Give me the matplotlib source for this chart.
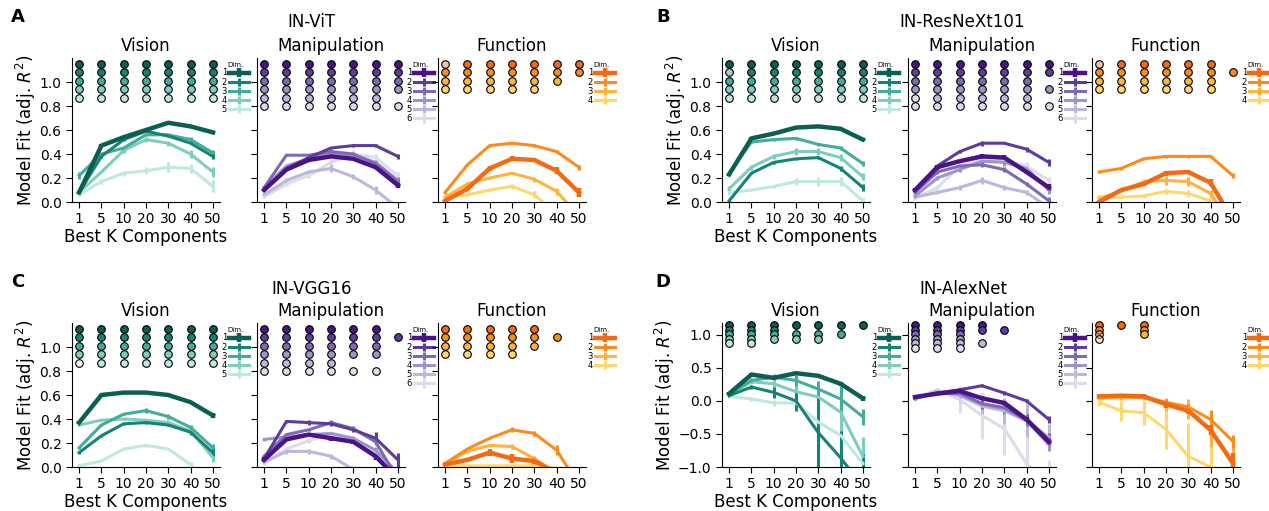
import matplotlib
matplotlib.use("Agg")
import matplotlib.pyplot as plt
from matplotlib.colors import to_rgba

K_LABELS = ["1", "5", "10", "20", "30", "40", "50"]
SUBTITLES = ["Vision", "Manipulation", "Function"]
MODELS = ["IN-ViT", "IN-ResNeXt101", "IN-VGG16", "IN-AlexNet"]
LETTERS = ["A", "B", "C", "D"]

VISION_COLORS = ["#0b5e52", "#178277", "#45ab9c", "#7fcdbf", "#bfe9df"]
MANIP_COLORS = ["#4a1486", "#5e3c99", "#7c6bb1", "#9e94c8", "#bcb8dc", "#dcdcee"]
FUNC_COLORS = ["#f26a12", "#fb8c1c", "#fdb33e", "#fed86e"]

ALL7 = [0, 1, 2, 3, 4, 5, 6]

# ---- A: IN-ViT ----
VIT_VIS = [
    [0.08, 0.47, 0.54, 0.60, 0.66, 0.63, 0.58],
    [0.08, 0.38, 0.52, 0.59, 0.55, 0.49, 0.38],
    [0.22, 0.40, 0.45, 0.56, 0.56, 0.52, 0.41],
    [0.08, 0.25, 0.43, 0.52, 0.49, 0.40, 0.25],
    [0.06, 0.17, 0.24, 0.26, 0.29, 0.28, 0.13],
]
VIT_VIS_ERR = [
    [0.01, 0.01, 0.01, 0.01, 0.01, 0.01, 0.01],
    [0.01, 0.01, 0.01, 0.01, 0.01, 0.01, 0.02],
    [0.03, 0.01, 0.01, 0.01, 0.01, 0.02, 0.02],
    [0.01, 0.01, 0.02, 0.02, 0.02, 0.03, 0.04],
    [0.01, 0.02, 0.02, 0.03, 0.04, 0.04, 0.05],
]
VIT_VIS_DOTS = [ALL7, ALL7, ALL7, ALL7, ALL7]
VIT_VIS_FAINT = []

VIT_MAN = [
    [0.10, 0.27, 0.35, 0.38, 0.36, 0.29, 0.14],
    [0.10, 0.28, 0.37, 0.45, 0.47, 0.47, 0.38],
    [0.12, 0.39, 0.39, 0.42, 0.40, 0.32, 0.17],
    [0.12, 0.30, 0.36, 0.41, 0.39, 0.33, 0.18],
    [0.06, 0.18, 0.25, 0.28, 0.21, 0.10, -0.05],
    [0.04, 0.15, 0.22, 0.33, 0.40, 0.37, 0.22],
]
VIT_MAN_ERR = [
    [0.01, 0.01, 0.01, 0.01, 0.01, 0.01, 0.02],
    [0.01, 0.01, 0.01, 0.01, 0.01, 0.01, 0.02],
    [0.01, 0.01, 0.01, 0.01, 0.02, 0.02, 0.03],
    [0.01, 0.01, 0.02, 0.02, 0.02, 0.02, 0.03],
    [0.01, 0.02, 0.02, 0.03, 0.02, 0.03, 0.04],
    [0.01, 0.02, 0.02, 0.03, 0.03, 0.03, 0.03],
]
VIT_MAN_DOTS = [ALL7, ALL7, ALL7, ALL7, [0, 1, 2, 3, 4, 5], ALL7]
VIT_MAN_FAINT = []

VIT_FUN = [
    [0.01, 0.11, 0.28, 0.36, 0.35, 0.26, 0.08],
    [0.08, 0.31, 0.47, 0.49, 0.47, 0.42, 0.29],
    [0.04, 0.15, 0.20, 0.24, 0.19, 0.09, -0.12],
    [0.04, 0.06, 0.10, 0.13, 0.06, -0.10, -0.30],
]
VIT_FUN_ERR = [
    [0.01, 0.02, 0.02, 0.02, 0.02, 0.03, 0.04],
    [0.01, 0.01, 0.01, 0.01, 0.01, 0.01, 0.02],
    [0.01, 0.02, 0.01, 0.01, 0.02, 0.03, 0.03],
    [0.01, 0.01, 0.01, 0.02, 0.03, 0.03, 0.03],
]
VIT_FUN_DOTS = [ALL7, ALL7, [0, 1, 2, 3, 4, 5], [0, 1, 2, 3, 4]]
VIT_FUN_FAINT = [(0, 0)]

# ---- B: IN-ResNeXt101 ----
RNX_VIS = [
    [0.23, 0.53, 0.57, 0.62, 0.63, 0.61, 0.52],
    [0.01, 0.24, 0.33, 0.36, 0.37, 0.28, 0.12],
    [0.24, 0.50, 0.52, 0.53, 0.48, 0.45, 0.32],
    [0.11, 0.29, 0.38, 0.42, 0.42, 0.37, 0.21],
    [0.08, 0.10, 0.13, 0.17, 0.17, 0.17, 0.01],
]
RNX_VIS_ERR = [
    [0.01, 0.01, 0.01, 0.01, 0.01, 0.01, 0.01],
    [0.01, 0.01, 0.01, 0.01, 0.01, 0.02, 0.03],
    [0.01, 0.01, 0.01, 0.01, 0.01, 0.02, 0.02],
    [0.02, 0.02, 0.02, 0.03, 0.03, 0.03, 0.03],
    [0.02, 0.01, 0.01, 0.03, 0.04, 0.04, 0.02],
]
RNX_VIS_DOTS = [ALL7, ALL7, ALL7, ALL7, ALL7]
RNX_VIS_FAINT = [(1, 0)]

RNX_MAN = [
    [0.10, 0.29, 0.34, 0.38, 0.37, 0.25, 0.12],
    [0.10, 0.30, 0.42, 0.49, 0.49, 0.44, 0.33],
    [0.08, 0.25, 0.30, 0.31, 0.27, 0.15, 0.01],
    [0.05, 0.20, 0.27, 0.34, 0.33, 0.28, 0.10],
    [0.04, 0.08, 0.12, 0.18, 0.12, 0.08, -0.05],
    [0.03, 0.12, 0.30, 0.35, 0.35, 0.30, 0.18],
]
RNX_MAN_ERR = [
    [0.02, 0.02, 0.01, 0.02, 0.02, 0.02, 0.03],
    [0.01, 0.01, 0.01, 0.02, 0.01, 0.02, 0.03],
    [0.01, 0.02, 0.02, 0.02, 0.02, 0.02, 0.03],
    [0.01, 0.02, 0.02, 0.02, 0.03, 0.03, 0.03],
    [0.01, 0.01, 0.02, 0.03, 0.02, 0.02, 0.03],
    [0.01, 0.02, 0.02, 0.02, 0.02, 0.03, 0.03],
]
RNX_MAN_DOTS = [ALL7, ALL7, [0, 1, 2, 3, 4, 5], ALL7, [0, 1, 2, 3, 4, 5], ALL7]
RNX_MAN_FAINT = [(4, 0)]

RNX_FUN = [
    [0.00, 0.10, 0.15, 0.24, 0.25, 0.16, -0.15],
    [0.25, 0.28, 0.36, 0.38, 0.38, 0.38, 0.22],
    [0.03, 0.09, 0.17, 0.18, 0.17, 0.07, -0.20],
    [0.04, 0.04, 0.05, 0.09, 0.07, 0.01, -0.30],
]
RNX_FUN_ERR = [
    [0.01, 0.01, 0.02, 0.02, 0.02, 0.03, 0.04],
    [0.01, 0.01, 0.01, 0.01, 0.01, 0.01, 0.02],
    [0.01, 0.01, 0.02, 0.04, 0.04, 0.03, 0.03],
    [0.02, 0.01, 0.02, 0.02, 0.03, 0.03, 0.03],
]
RNX_FUN_DOTS = [[0, 1, 2, 3, 4, 5], ALL7, [0, 1, 2, 3, 4, 5], [0, 1, 2, 3, 4, 5]]
RNX_FUN_FAINT = [(0, 0)]

# ---- C: IN-VGG16 ----
VGG_VIS = [
    [0.37, 0.60, 0.62, 0.62, 0.60, 0.54, 0.43],
    [0.12, 0.26, 0.36, 0.37, 0.35, 0.29, 0.12],
    [0.16, 0.35, 0.44, 0.47, 0.42, 0.33, 0.16],
    [0.35, 0.39, 0.40, 0.39, 0.37, 0.30, 0.08],
    [0.01, 0.05, 0.15, 0.18, 0.15, 0.02, -0.20],
]
VGG_VIS_ERR = [
    [0.01, 0.01, 0.01, 0.01, 0.01, 0.01, 0.02],
    [0.01, 0.01, 0.01, 0.01, 0.01, 0.02, 0.03],
    [0.01, 0.01, 0.01, 0.02, 0.02, 0.02, 0.03],
    [0.01, 0.01, 0.01, 0.01, 0.02, 0.02, 0.04],
    [0.01, 0.01, 0.01, 0.01, 0.01, 0.02, 0.03],
]
VGG_VIS_DOTS = [ALL7, ALL7, ALL7, ALL7, ALL7]
VGG_VIS_FAINT = [(4, 0)]

VGG_MAN = [
    [0.06, 0.23, 0.27, 0.24, 0.21, 0.09, -0.10],
    [0.07, 0.38, 0.37, 0.36, 0.31, 0.24, 0.06],
    [0.09, 0.27, 0.31, 0.37, 0.32, 0.21, -0.10],
    [0.23, 0.25, 0.27, 0.28, 0.24, 0.14, -0.05],
    [0.04, 0.13, 0.13, 0.09, -0.02, -0.20, -0.30],
    [0.03, 0.15, 0.22, 0.27, 0.23, 0.12, -0.05],
]
VGG_MAN_ERR = [
    [0.02, 0.01, 0.01, 0.02, 0.02, 0.03, 0.04],
    [0.01, 0.01, 0.02, 0.02, 0.02, 0.05, 0.06],
    [0.01, 0.01, 0.01, 0.02, 0.02, 0.03, 0.04],
    [0.01, 0.01, 0.01, 0.01, 0.02, 0.03, 0.04],
    [0.01, 0.02, 0.02, 0.02, 0.03, 0.03, 0.04],
    [0.01, 0.02, 0.02, 0.02, 0.02, 0.03, 0.04],
]
VGG_MAN_DOTS = [[0, 1, 2, 3, 4, 5], ALL7, [0, 1, 2, 3, 4, 5], [0, 1, 2, 3, 4, 5],
                [0, 1, 2, 3], [0, 1, 2, 3, 4, 5]]
VGG_MAN_FAINT = []

VGG_FUN = [
    [0.02, 0.06, 0.12, 0.07, 0.05, -0.05, -0.10],
    [0.03, 0.15, 0.24, 0.31, 0.28, 0.14, -0.15],
    [0.03, 0.13, 0.18, 0.17, 0.07, -0.05, -0.20],
    [0.01, 0.01, 0.01, 0.01, 0.01, -0.01, -0.10],
]
VGG_FUN_ERR = [
    [0.01, 0.01, 0.03, 0.04, 0.03, 0.03, 0.04],
    [0.01, 0.01, 0.01, 0.02, 0.02, 0.04, 0.04],
    [0.01, 0.01, 0.01, 0.02, 0.02, 0.03, 0.03],
    [0.01, 0.01, 0.01, 0.01, 0.01, 0.02, 0.02],
]
VGG_FUN_DOTS = [[0, 1, 2, 3, 4], [0, 1, 2, 3, 4, 5], [0, 1, 2, 3, 4], [0, 1, 2, 3]]
VGG_FUN_FAINT = []

# ---- D: IN-AlexNet ----
ALX_VIS = [
    [0.11, 0.40, 0.35, 0.42, 0.38, 0.26, 0.04],
    [0.08, 0.21, 0.13, 0.00, -0.48, -0.86, -1.30],
    [0.11, 0.31, 0.36, 0.31, 0.18, 0.03, -0.24],
    [0.09, 0.29, 0.26, 0.14, 0.06, -0.17, -0.84],
    [0.07, 0.03, -0.03, -0.03, -0.32, -0.52, -0.95],
]
ALX_VIS_ERR = [
    [0.02, 0.02, 0.03, 0.02, 0.02, 0.03, 0.04],
    [0.02, 0.03, 0.08, 0.15, 0.55, 0.40, 0.50],
    [0.02, 0.03, 0.05, 0.08, 0.12, 0.20, 0.12],
    [0.02, 0.03, 0.05, 0.10, 0.20, 0.30, 0.30],
    [0.02, 0.03, 0.04, 0.08, 0.20, 0.35, 0.30],
]
ALX_VIS_DOTS = [ALL7, [0, 1, 2], [0, 1, 2, 3, 4, 5], [0, 1, 2, 3, 4], [0, 1]]
ALX_VIS_FAINT = []

ALX_MAN = [
    [0.06, 0.11, 0.15, 0.04, -0.03, -0.28, -0.62],
    [0.05, 0.12, 0.17, 0.23, 0.12, 0.00, -0.28],
    [0.04, 0.12, 0.12, -0.04, -0.10, -0.28, -0.58],
    [0.04, 0.13, 0.10, -0.05, -0.12, -0.30, -0.66],
    [0.03, 0.15, 0.08, -0.08, -0.15, -0.30, -0.55],
    [0.05, 0.17, 0.02, -0.22, -0.42, -0.95, -1.30],
]
ALX_MAN_ERR = [
    [0.02, 0.02, 0.03, 0.03, 0.03, 0.04, 0.05],
    [0.02, 0.02, 0.02, 0.02, 0.03, 0.03, 0.05],
    [0.02, 0.02, 0.05, 0.08, 0.08, 0.08, 0.10],
    [0.02, 0.02, 0.05, 0.06, 0.08, 0.10, 0.10],
    [0.02, 0.03, 0.10, 0.15, 0.20, 0.25, 0.20],
    [0.02, 0.03, 0.20, 0.35, 0.40, 0.40, 0.40],
]
ALX_MAN_DOTS = [[0, 1, 2, 3], [0, 1, 2, 3, 4], [0, 1, 2], [0, 1, 2],
                [0, 1, 2, 3], [0, 1, 2]]
ALX_MAN_FAINT = []

ALX_FUN = [
    [0.07, 0.08, 0.07, -0.05, -0.15, -0.44, -0.94],
    [0.06, 0.07, 0.06, -0.02, -0.09, -0.28, -0.61],
    [0.04, 0.05, 0.05, -0.05, -0.12, -0.45, -0.95],
    [-0.02, -0.15, -0.18, -0.43, -0.84, -1.00, -1.30],
]
ALX_FUN_ERR = [
    [0.02, 0.02, 0.03, 0.05, 0.05, 0.08, 0.15],
    [0.02, 0.02, 0.03, 0.05, 0.05, 0.15, 0.10],
    [0.02, 0.03, 0.04, 0.10, 0.15, 0.25, 0.30],
    [0.05, 0.15, 0.18, 0.30, 0.50, 0.50, 0.50],
]
ALX_FUN_DOTS = [[0, 1, 2], [0, 2], [0, 2], [0]]
ALX_FUN_FAINT = [(2, 0), (3, 0)]

PANELS = [
    [(VIT_VIS, VIT_VIS_ERR, VIT_VIS_DOTS, VIT_VIS_FAINT),
     (VIT_MAN, VIT_MAN_ERR, VIT_MAN_DOTS, VIT_MAN_FAINT),
     (VIT_FUN, VIT_FUN_ERR, VIT_FUN_DOTS, VIT_FUN_FAINT)],
    [(RNX_VIS, RNX_VIS_ERR, RNX_VIS_DOTS, RNX_VIS_FAINT),
     (RNX_MAN, RNX_MAN_ERR, RNX_MAN_DOTS, RNX_MAN_FAINT),
     (RNX_FUN, RNX_FUN_ERR, RNX_FUN_DOTS, RNX_FUN_FAINT)],
    [(VGG_VIS, VGG_VIS_ERR, VGG_VIS_DOTS, VGG_VIS_FAINT),
     (VGG_MAN, VGG_MAN_ERR, VGG_MAN_DOTS, VGG_MAN_FAINT),
     (VGG_FUN, VGG_FUN_ERR, VGG_FUN_DOTS, VGG_FUN_FAINT)],
    [(ALX_VIS, ALX_VIS_ERR, ALX_VIS_DOTS, ALX_VIS_FAINT),
     (ALX_MAN, ALX_MAN_ERR, ALX_MAN_DOTS, ALX_MAN_FAINT),
     (ALX_FUN, ALX_FUN_ERR, ALX_FUN_DOTS, ALX_FUN_FAINT)],
]
PALETTES = [VISION_COLORS, MANIP_COLORS, FUNC_COLORS]

W, H = 1269, 511
fig = plt.figure(figsize=(W / 100, H / 100), dpi=100)

# pixel layout: axes lefts per panel column, row tops
LEFTS = [[72, 257, 438], [722, 908, 1092]]
AX_W = 148
AX_H = 144
TOPS = [58, 323]
MODEL_POS = [(311, 22), (962, 22), (312, 289), (963, 289)]
LETTER_POS = [(18, 17), (663, 17), (18, 282), (663, 282)]


def draw_sub(ax, vals, errs, dots, faint, colors, lowest):
    x = list(range(len(K_LABELS)))
    for i, (v, e) in enumerate(zip(vals, errs)):
        lw = 3.2 if i == 0 else 2.2
        ax.errorbar(x, v, yerr=e, color=colors[i], lw=lw, elinewidth=lw,
                    capsize=0, label=str(i + 1), zorder=2 + (len(vals) - i) * 0.01)
    for i, ks in enumerate(dots):
        for k in ks:
            fc = to_rgba(colors[i], 0.4 if (i, k) in faint else 1.0)
            ax.scatter(k, 1.15 - 0.07 * i, s=30, facecolors=[fc],
                       edgecolors="black", linewidths=0.8, zorder=5, clip_on=False)
    ax.set_xlim(-0.32, 6.32)
    ax.set_xticks(x)
    ax.set_xticklabels(K_LABELS, fontsize=10)
    if lowest < 0:
        ax.set_ylim(-1.0, 1.18)
        ax.set_yticks([-1.0, -0.5, 0.0, 0.5, 1.0])
    else:
        ax.set_ylim(0.0, 1.2)
        ax.set_yticks([0.0, 0.2, 0.4, 0.6, 0.8, 1.0])
    ax.spines["top"].set_visible(False)
    ax.spines["right"].set_visible(False)
    ax.tick_params(labelsize=10, length=4)
    ax.legend(loc="upper left", bbox_to_anchor=(1.01, 0.97), frameon=False,
              markerfirst=False, fontsize=6, title="Dim.", title_fontsize=5,
              labelspacing=0.02, handlelength=2.4, handletextpad=0.3,
              borderaxespad=0.0, borderpad=0.0)


for p in range(4):
    row, col = p // 2, p % 2
    lowest = -1 if p == 3 else 0
    for j in range(3):
        left = LEFTS[col][j]
        top = TOPS[row]
        ax = fig.add_axes([left / W, 1 - (top + AX_H) / H, AX_W / W, AX_H / H])
        vals, errs, dots, faint = PANELS[p][j]
        draw_sub(ax, vals, errs, dots, faint, PALETTES[j], lowest)
        ax.set_title(SUBTITLES[j], fontsize=12, pad=5)
        if j == 0:
            ax.set_ylabel("Model Fit (adj. $R^2$)", fontsize=12, labelpad=1)
            ax.set_xlabel("Best K Components", fontsize=12, labelpad=1)
        else:
            ax.set_yticklabels([])
    mx, my = MODEL_POS[p]
    fig.text(mx / W, 1 - my / H, MODELS[p], fontsize=12, ha="center", va="center")
    lx, ly = LETTER_POS[p]
    fig.text(lx / W, 1 - ly / H, LETTERS[p], fontsize=13, fontweight="bold",
             ha="center", va="center")

fig.savefig("out.png", dpi=100)
